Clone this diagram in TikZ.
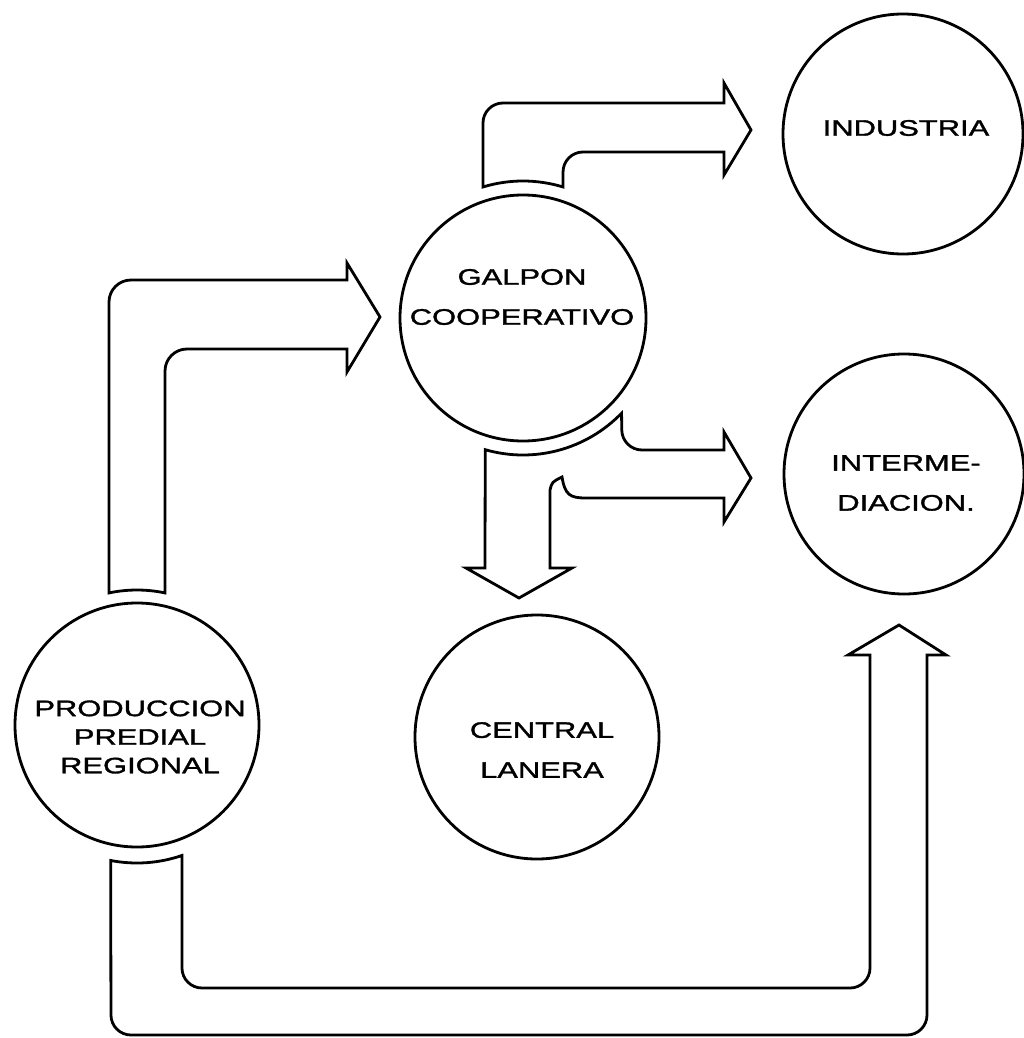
\documentclass[tikz,border=0pt]{standalone}
\usepackage{fontspec}
\newfontfamily\lblfont{Liberation Sans}[FakeStretch=1.38,FakeBold=1.5]

\begin{document}
\begin{tikzpicture}[x=0.5pt,y=-0.5pt,line width=1.4pt,line join=round,
  ring/.style={draw,circle,inner sep=0pt},
  tag/.style={align=center,inner sep=0pt,font=\lblfont\fontsize{11.2}{20}\selectfont},
  flow/.style={draw,line join=miter}]
\useasboundingbox (0,0) rectangle (1023,1038);

\node[ring,minimum size=120pt] (ind) at (903,134) {};
\node[ring,minimum size=123pt] (galpon) at (523,318) {};
\node[ring,minimum size=120pt] (inter) at (904,474) {};
\node[ring,minimum size=122pt] (prod) at (137,725) {};
\node[ring,minimum size=122pt] (central) at (537,737) {};

\node[tag] (ind-t) at (906,128) {INDUSTRIA};
\node[tag] (galpon-t) at (522,297) {GALPON\\COOPERATIVO};
\node[tag] (inter-t) at (906,483) {INTERME-\\DIACION.};
\node[tag] (central-t) at (542,750) {CENTRAL\\LANERA};
\node[tag,font=\lblfont\fontsize{11.2}{14.3}\selectfont] (prod-t) at (140,737)
 {PRODUCCION\\PREDIAL\\REGIONAL};

% produccion -> galpon
\draw[flow] ([shift={(-78:135)}]prod.center) arc[start angle=-78,end angle=-102,radius=135]
 [rounded corners=11pt] -- (109,280) [sharp corners] -- (347,280) -- (347,263) -- (380,317)
 -- (347,372) -- (347,349) [rounded corners=11pt] -- (165,349) [sharp corners] -- cycle;

% galpon -> industria
\draw[flow] ([shift={(-73:137)}]galpon.center) arc[start angle=-73,end angle=-107,radius=137]
 [rounded corners=10pt] -- (483,103) [sharp corners] -- (724,103) -- (724,83) -- (751,130)
 -- (724,175) -- (724,152) [rounded corners=10pt] -- (563,152) [sharp corners] -- cycle;

% galpon -> central, intermediacion
\draw[flow] ([shift={(44:137)}]galpon.center) arc[start angle=44,end angle=106,radius=137]
 -- (485,568) -- (466,568) -- (519,598) -- (572,568) -- (550,568) -- (550,490)
 .. controls (552,482) .. (562,477) .. controls (565,495) and (570,498) .. (586,498)
 -- (724,498) -- (724,522) -- (751,478) -- (724,432) -- (724,450)
 [rounded corners=10pt] -- (622,450) [sharp corners] -- cycle;

% produccion -> intermediacion
\draw[flow] ([shift={(71:138)}]prod.center) arc[start angle=71,end angle=101,radius=138]
 [rounded corners=10pt] -- (111,1035) -- (927,1035) [sharp corners] -- (927,655) -- (946,655)
 -- (899,625) -- (848,655) -- (870,655) [rounded corners=10pt] -- (870,988) -- (182,988)
 [sharp corners] -- cycle;
\end{tikzpicture}
\end{document}
